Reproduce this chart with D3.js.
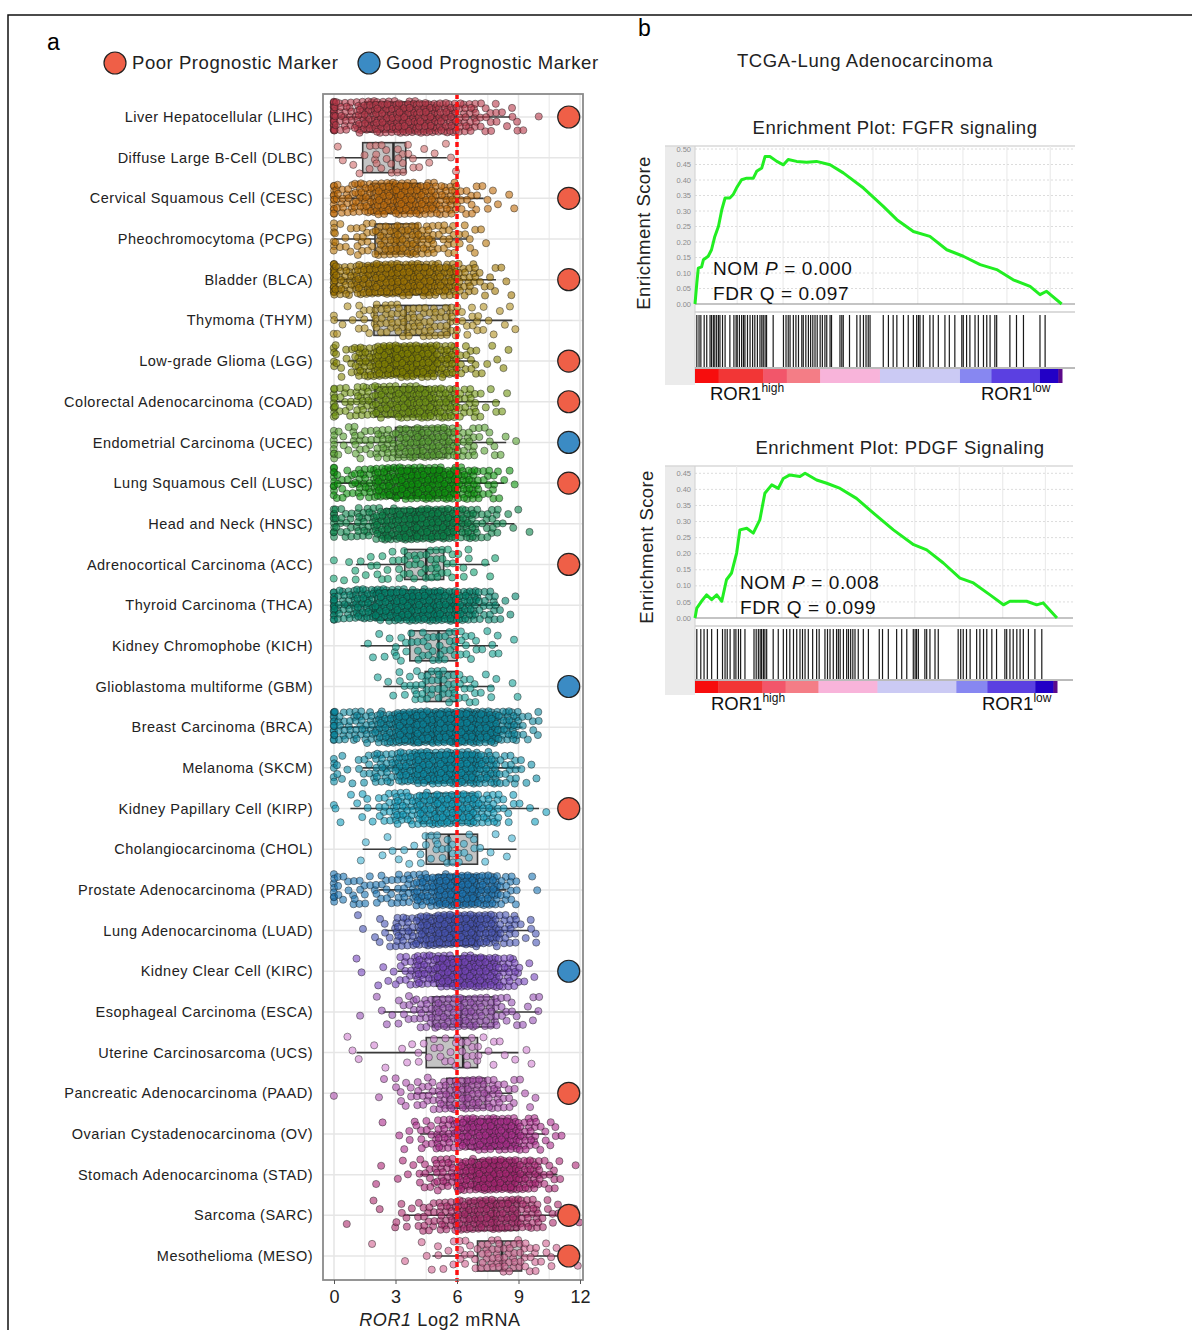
<!DOCTYPE html>
<html>
<head>
<meta charset="utf-8">
<script src="https://cdn.jsdelivr.net/npm/d3@7"></script>
<style>
  body { margin: 0; background: #fff; }
  svg { display: block; font-family: "Liberation Sans", Arial, sans-serif; }
</style>
</head>
<body>
<svg width="1192" height="1330"></svg>
<script>
"use strict";

// ---------- panel a data ----------
const cancerTypes = [
  "Liver Hepatocellular (LIHC)", "Diffuse Large B-Cell (DLBC)", "Cervical Squamous Cell (CESC)",
  "Pheochromocytoma (PCPG)", "Bladder (BLCA)", "Thymoma (THYM)", "Low-grade Glioma (LGG)",
  "Colorectal Adenocarcinoma (COAD)", "Endometrial Carcinoma (UCEC)", "Lung Squamous Cell (LUSC)",
  "Head and Neck (HNSC)", "Adrenocortical Carcinoma (ACC)", "Thyroid Carcinoma (THCA)",
  "Kidney Chromophobe (KICH)", "Glioblastoma multiforme (GBM)", "Breast Carcinoma (BRCA)",
  "Melanoma (SKCM)", "Kidney Papillary Cell (KIRP)", "Cholangiocarcinoma (CHOL)",
  "Prostate Adenocarcinoma (PRAD)", "Lung Adenocarcinoma (LUAD)", "Kidney Clear Cell (KIRC)",
  "Esophageal Carcinoma (ESCA)", "Uterine Carcinosarcoma (UCS)", "Pancreatic Adenocarcinoma (PAAD)",
  "Ovarian Cystadenocarcinoma (OV)", "Stomach Adenocarcinoma (STAD)", "Sarcoma (SARC)",
  "Mesothelioma (MESO)"
];

const whiskerLow  = [0, 0.05, 0, 0, 0, 0, 0.7, 0, 0, 0, 0, 1.07, 0, 1.3, 2.4, 0.3, 1.4, 0.8, 1.4, 2.2, 2.5, 3.1, 2.4, 1.1, 3.9, 4.2, 4.2, 3.4, 4.8];
const quartile1   = [1.5, 1.4, 1.8, 2.0, 1.6, 1.95, 2.5, 2.0, 3.0, 2.6, 2.5, 3.45, 2.0, 3.7, 4.45, 3.3, 4.0, 4.2, 4.5, 5.0, 4.5, 5.0, 4.8, 4.5, 5.5, 6.5, 6.8, 6.5, 7.0];
const medians     = [3.2, 2.9, 3.0, 3.1, 3.0, 3.5, 3.6, 3.6, 4.2, 3.9, 4.0, 4.5, 3.8, 5.1, 5.2, 5.0, 5.5, 5.0, 5.6, 6.0, 5.8, 6.2, 6.2, 6.3, 6.4, 7.6, 7.9, 7.8, 8.2];
const quartile3   = [4.6, 3.5, 4.2, 4.1, 4.6, 5.65, 4.9, 4.6, 5.5, 5.3, 5.5, 5.35, 5.2, 6.0, 6.0, 6.8, 6.8, 6.8, 7.0, 7.0, 7.0, 7.3, 7.8, 7.0, 7.4, 8.5, 8.8, 9.0, 9.15];
const whiskerHigh = [8.6, 5.5, 7.3, 6.5, 7.9, 8.7, 6.9, 8.1, 8.4, 8.3, 8.8, 7.6, 8.1, 8.0, 7.8, 9.2, 9.1, 10.0, 8.9, 8.4, 9.5, 8.5, 10.0, 9.0, 8.7, 10.3, 10.9, 11.2, 11.2];

// samples sitting exactly at 0 and counts per 1-unit bin (0-1, 1-2, ... 11-12)
const zeroCounts = [30, 0, 12, 6, 20, 3, 4, 8, 8, 10, 10, 2, 15, 0, 0, 15, 5, 1, 0, 8, 0, 0, 0, 0, 1, 0, 0, 0, 0];
const binCounts = [
  [25, 45, 55, 60, 55, 45, 25, 12, 6, 2, 0, 0],
  [3, 5, 9, 10, 4, 3, 0, 0, 0, 0, 0, 0],
  [20, 35, 50, 55, 45, 30, 12, 5, 2, 0, 0, 0],
  [8, 15, 30, 35, 25, 15, 8, 2, 0, 0, 0, 0],
  [30, 45, 55, 60, 55, 45, 22, 8, 3, 0, 0, 0],
  [4, 10, 18, 22, 20, 18, 10, 5, 4, 0, 0, 0],
  [10, 35, 60, 75, 65, 40, 12, 4, 2, 0, 0, 0],
  [15, 25, 40, 50, 50, 40, 18, 6, 2, 0, 0, 0],
  [8, 15, 25, 35, 40, 35, 18, 8, 3, 0, 0, 0],
  [12, 25, 45, 60, 60, 55, 35, 15, 4, 0, 0, 0],
  [15, 25, 45, 55, 60, 55, 35, 15, 4, 1, 0, 0],
  [2, 6, 8, 12, 14, 12, 6, 3, 0, 0, 0, 0],
  [25, 45, 55, 60, 60, 55, 40, 18, 5, 0, 0, 0],
  [0, 2, 4, 8, 12, 14, 10, 5, 2, 0, 0, 0],
  [0, 0, 3, 8, 15, 18, 12, 5, 2, 0, 0, 0],
  [20, 25, 45, 75, 90, 100, 95, 75, 35, 10, 0, 0],
  [6, 10, 25, 45, 60, 65, 60, 40, 15, 5, 0, 0],
  [3, 6, 15, 30, 40, 45, 40, 25, 8, 3, 1, 0],
  [0, 2, 3, 4, 8, 10, 8, 4, 2, 0, 0, 0],
  [10, 10, 12, 20, 40, 55, 60, 45, 15, 2, 0, 0],
  [0, 2, 8, 25, 45, 60, 60, 45, 20, 6, 0, 0],
  [0, 2, 4, 15, 35, 55, 60, 50, 25, 4, 0, 0],
  [0, 1, 4, 10, 20, 28, 30, 22, 10, 5, 1, 0],
  [2, 2, 1, 3, 6, 8, 10, 6, 3, 2, 0, 0],
  [0, 0, 2, 8, 15, 25, 30, 25, 12, 4, 0, 0],
  [0, 0, 1, 5, 12, 25, 45, 55, 50, 25, 8, 1],
  [0, 0, 2, 4, 12, 25, 45, 60, 55, 35, 12, 2],
  [1, 1, 2, 6, 15, 25, 40, 45, 40, 25, 8, 2],
  [0, 1, 0, 1, 3, 6, 10, 18, 20, 15, 6, 1]
];

const dotColors = [
  "#b8384a", "#d06a6a", "#c06a08", "#b87408", "#a07400", "#b09020", "#848400", "#709410",
  "#56a030", "#0c940c", "#08844a", "#10a070", "#00846c", "#10a090", "#14a096", "#0a869c",
  "#0a8ca6", "#109cbc", "#40b0d0", "#1a74b4", "#4654b4", "#7444bc", "#9650b4", "#d080d0",
  "#ac4cac", "#ac2c8c", "#ac2474", "#ac2c6c", "#d06090"
];

const prognosis = [
  "poor", null, "poor", null, "poor", null, "poor", "poor", "good", "poor", null, "poor", null,
  null, "good", null, null, "poor", null, null, null, "good", null, null, "poor", null, null,
  "poor", "poor"
];

const xTicks = [0, 3, 6, 9, 12];
const xGrid = [0, 1.5, 3, 4.5, 6, 7.5, 9, 10.5, 12];
const cutoff = 6;
const markerPosition = 11.45;
const markerColors = { poor: "#ef5f47", good: "#3b8bc4" };

// ---------- panel b data ----------
const fgfrRank = [0, 0.005, 0.009, 0.018, 0.023, 0.036, 0.045, 0.054, 0.064, 0.073, 0.082, 0.095, 0.104, 0.113, 0.127, 0.141, 0.159, 0.168, 0.182, 0.191, 0.204, 0.223, 0.241, 0.254, 0.277, 0.304, 0.331, 0.368, 0.404, 0.459, 0.513, 0.55, 0.595, 0.64, 0.686, 0.731, 0.777, 0.822, 0.867, 0.913, 0.94, 0.958, 0.999];
const fgfrES   = [0, 0.068, 0.116, 0.12, 0.143, 0.154, 0.175, 0.218, 0.251, 0.304, 0.342, 0.342, 0.353, 0.374, 0.401, 0.406, 0.406, 0.428, 0.439, 0.476, 0.476, 0.46, 0.449, 0.466, 0.46, 0.457, 0.46, 0.449, 0.423, 0.374, 0.315, 0.272, 0.234, 0.218, 0.175, 0.154, 0.127, 0.111, 0.078, 0.057, 0.03, 0.041, 0];
const fgfrHits = [0.005, 0.011, 0.016, 0.025, 0.032, 0.041, 0.045, 0.05, 0.054, 0.059, 0.064, 0.068, 0.075, 0.082, 0.095, 0.106, 0.112, 0.115, 0.121, 0.127, 0.132, 0.136, 0.143, 0.15, 0.157, 0.163, 0.17, 0.177, 0.182, 0.186, 0.191, 0.195, 0.213, 0.241, 0.248, 0.254, 0.259, 0.268, 0.275, 0.282, 0.291, 0.295, 0.302, 0.309, 0.315, 0.321, 0.327, 0.333, 0.341, 0.347, 0.354, 0.359, 0.368, 0.372, 0.395, 0.4, 0.404, 0.421, 0.441, 0.45, 0.459, 0.466, 0.472, 0.477, 0.513, 0.527, 0.54, 0.55, 0.568, 0.581, 0.595, 0.604, 0.609, 0.613, 0.622, 0.64, 0.649, 0.663, 0.681, 0.693, 0.708, 0.727, 0.731, 0.74, 0.749, 0.763, 0.772, 0.786, 0.795, 0.804, 0.817, 0.822, 0.858, 0.876, 0.895, 0.94, 0.954];

const pdgfRank = [0, 0.005, 0.018, 0.032, 0.046, 0.06, 0.074, 0.087, 0.101, 0.115, 0.124, 0.143, 0.161, 0.179, 0.193, 0.212, 0.23, 0.244, 0.262, 0.29, 0.304, 0.336, 0.364, 0.401, 0.446, 0.493, 0.548, 0.604, 0.64, 0.686, 0.732, 0.769, 0.815, 0.852, 0.87, 0.916, 0.944, 0.962, 1];
const pdgfES   = [0, 0.031, 0.052, 0.072, 0.057, 0.072, 0.052, 0.119, 0.14, 0.202, 0.274, 0.279, 0.264, 0.305, 0.388, 0.414, 0.403, 0.434, 0.445, 0.44, 0.45, 0.429, 0.419, 0.403, 0.372, 0.326, 0.274, 0.228, 0.212, 0.171, 0.124, 0.109, 0.072, 0.041, 0.052, 0.052, 0.041, 0.047, 0];
const pdgfHits = [0.005, 0.016, 0.025, 0.034, 0.046, 0.062, 0.076, 0.083, 0.089, 0.097, 0.108, 0.113, 0.12, 0.126, 0.138, 0.163, 0.169, 0.175, 0.18, 0.184, 0.189, 0.193, 0.198, 0.216, 0.23, 0.244, 0.253, 0.262, 0.272, 0.281, 0.29, 0.297, 0.304, 0.313, 0.325, 0.336, 0.343, 0.359, 0.366, 0.373, 0.382, 0.391, 0.396, 0.401, 0.41, 0.419, 0.424, 0.43, 0.436, 0.442, 0.451, 0.465, 0.479, 0.509, 0.518, 0.534, 0.557, 0.571, 0.585, 0.603, 0.608, 0.612, 0.617, 0.635, 0.64, 0.649, 0.663, 0.672, 0.727, 0.734, 0.741, 0.75, 0.76, 0.778, 0.787, 0.797, 0.806, 0.82, 0.833, 0.856, 0.861, 0.87, 0.879, 0.889, 0.898, 0.907, 0.921, 0.939, 0.958];

const fgfrTicks = [0, 0.05, 0.1, 0.15, 0.2, 0.25, 0.3, 0.35, 0.4, 0.45, 0.5];
const pdgfTicks = [0, 0.05, 0.1, 0.15, 0.2, 0.25, 0.3, 0.35, 0.4, 0.45];
const rankGrid = [0.115, 0.24, 0.365, 0.485, 0.607, 0.73, 0.85, 0.968];
const barStops = [0, 0.064, 0.186, 0.25, 0.341, 0.504, 0.722, 0.808, 0.94, 0.99, 1];
const barColors = ["#f70d0d", "#f23636", "#f2566a", "#f47d86", "#f8b4da", "#cbcaf4", "#8787f1", "#5b40e1", "#2200c6", "#5c0a8a"];

const svg = d3.select("svg");

// outer figure frame
svg.append("path")
  .attr("d", "M8,1330V15H1192")
  .attr("fill", "none")
  .attr("stroke", "#111")
  .attr("stroke-width", 1.5);

svg.append("text").attr("x", 47).attr("y", 50).attr("font-size", 23).text("a");
svg.append("text").attr("x", 638).attr("y", 36).attr("font-size", 23).text("b");

// ---------- panel a ----------
const plotLeft = 323, plotRight = 583, plotTop = 94, plotBottom = 1280;
const x = d3.scaleLinear().domain([0, 12]).range([334, 580]);
const y = d3.scalePoint().domain(cancerTypes).range([117, 1256]);

const legend = svg.append("g").attr("font-size", 18.5).attr("letter-spacing", 0.55).attr("fill", "#222");
[["poor", 115, "Poor Prognostic Marker"], ["good", 369, "Good Prognostic Marker"]].forEach(([k, cx, label]) => {
  legend.append("circle").attr("cx", cx).attr("cy", 63).attr("r", 11)
    .attr("fill", markerColors[k]).attr("stroke", "#222").attr("stroke-width", 1.2);
  legend.append("text").attr("x", cx + 17).attr("y", 69).text(label);
});

const ga = svg.append("g");

ga.append("g").selectAll("line").data(xGrid).join("line")
  .attr("x1", d => x(d)).attr("x2", d => x(d))
  .attr("y1", plotTop).attr("y2", plotBottom)
  .attr("stroke", (d, i) => i % 2 ? "#efefef" : "#e4e4e4").attr("stroke-width", 1.5);

ga.append("g").selectAll("line").data(cancerTypes).join("line")
  .attr("x1", plotLeft).attr("x2", plotRight)
  .attr("y1", d => y(d)).attr("y2", d => y(d))
  .attr("stroke", "#e6e6e6").attr("stroke-width", 1.5);

// boxplots
const boxH = 30;
cancerTypes.forEach((c, i) => {
  const cy = y(c);
  const b = ga.append("g");
  b.append("line")
    .attr("x1", x(whiskerLow[i])).attr("x2", x(whiskerHigh[i]))
    .attr("y1", cy).attr("y2", cy)
    .attr("stroke", "#3a3a3a").attr("stroke-width", 1.6);
  b.append("rect")
    .attr("x", x(quartile1[i])).attr("y", cy - boxH / 2)
    .attr("width", x(quartile3[i]) - x(quartile1[i])).attr("height", boxH)
    .attr("fill", "#c4c4c4").attr("stroke", "#3a3a3a").attr("stroke-width", 1.6);
  b.append("line")
    .attr("x1", x(medians[i])).attr("x2", x(medians[i]))
    .attr("y1", cy - boxH / 2).attr("y2", cy + boxH / 2)
    .attr("stroke", "#2a2a2a").attr("stroke-width", 2.5);
});

// jittered samples: bins, spread inside each bin with an R2 low-discrepancy layout
const a1 = 0.7548776662, a2 = 0.5698402910;
const frac = v => v - Math.floor(v);
cancerTypes.forEach((c, i) => {
  const pts = [];
  for (let k = 0; k < zeroCounts[i]; k++) {
    pts.push([0.03 * (frac(k * a1 + 0.3) - 0.5), frac(0.5 + k * a2 + i * 0.17) * 2 - 1]);
  }
  binCounts[i].forEach((n, bin) => {
    const s = i * 37 + bin * 11;
    for (let k = 0; k < n; k++) {
      pts.push([bin + frac(0.5 + (k + s) * a1), frac(0.5 + (k + s) * a2) * 2 - 1]);
    }
  });
  ga.append("g").selectAll("circle").data(pts).join("circle")
    .attr("cx", d => x(d[0]))
    .attr("cy", d => y(c) + d[1] * 16)
    .attr("r", 3.6)
    .attr("fill", dotColors[i]).attr("fill-opacity", 0.6)
    .attr("stroke", "#1c1c1c").attr("stroke-opacity", 0.5).attr("stroke-width", 0.9);
});

// cutoff line
ga.append("line")
  .attr("x1", x(cutoff)).attr("x2", x(cutoff))
  .attr("y1", plotTop).attr("y2", plotBottom + 2)
  .attr("stroke", "#ff1010").attr("stroke-width", 3.5)
  .attr("stroke-dasharray", "5,3");

// prognostic markers
ga.append("g").selectAll("circle").data(cancerTypes.filter((c, i) => prognosis[i])).join("circle")
  .attr("cx", x(markerPosition))
  .attr("cy", d => y(d))
  .attr("r", 11)
  .attr("fill", d => markerColors[prognosis[cancerTypes.indexOf(d)]])
  .attr("stroke", "#222").attr("stroke-width", 1.2);

ga.append("rect")
  .attr("x", plotLeft).attr("y", plotTop)
  .attr("width", plotRight - plotLeft).attr("height", plotBottom - plotTop)
  .attr("fill", "none").attr("stroke", "#8a8a8a").attr("stroke-width", 1.8);

// category labels
ga.append("g").selectAll("text").data(cancerTypes).join("text")
  .attr("x", 313).attr("y", d => y(d)).attr("dy", "0.35em")
  .attr("text-anchor", "end").attr("font-size", 14.5).attr("letter-spacing", 0.5).attr("fill", "#222")
  .text(d => d);

// x axis
const xAxis = d3.axisBottom(x).tickValues(xTicks).tickSize(4).tickPadding(6).tickFormat(d3.format("d"));
const xAxisG = ga.append("g").attr("transform", `translate(0,${plotBottom})`).call(xAxis);
xAxisG.select(".domain").remove();
xAxisG.selectAll("line").attr("stroke", "#555");
xAxisG.selectAll("text").attr("font-size", 18).attr("fill", "#222")
  .attr("font-family", "Liberation Sans, Arial, sans-serif");

const xTitle = ga.append("text").attr("x", 440).attr("y", 1326)
  .attr("text-anchor", "middle").attr("font-size", 18).attr("letter-spacing", 0.6).attr("fill", "#222");
xTitle.append("tspan").attr("font-style", "italic").text("ROR1");
xTitle.append("tspan").text(" Log2 mRNA");

// ---------- panel b ----------
svg.append("text").attr("x", 865).attr("y", 67).attr("text-anchor", "middle")
  .attr("font-size", 18.5).attr("letter-spacing", 0.6).attr("fill", "#222").text("TCGA-Lung Adenocarcinoma");

const drawEnrichment = (cfg) => {
  const g = svg.append("g");
  const xs = d3.scaleLinear().domain([0, 1]).range([695, cfg.barEnd]);
  const ys = d3.scaleLinear().domain([0, cfg.esMax]).range([cfg.zeroY, cfg.maxY]);

  g.append("text").attr("x", cfg.titleX).attr("y", cfg.titleY).attr("text-anchor", "middle")
    .attr("font-size", 18.5).attr("letter-spacing", 0.5).attr("fill", "#222").text(cfg.title);

  g.append("rect").attr("x", 665).attr("y", cfg.top)
    .attr("width", 30).attr("height", cfg.barBottom + 2 - cfg.top).attr("fill", "#ebebeb");

  g.append("line").attr("x1", 665).attr("x2", cfg.right).attr("y1", cfg.top).attr("y2", cfg.top)
    .attr("stroke", "#d8d8d8").attr("stroke-width", 1.5);

  g.append("g").selectAll("line").data(rankGrid).join("line")
    .attr("x1", d => xs(d)).attr("x2", d => xs(d))
    .attr("y1", cfg.top).attr("y2", cfg.zeroY)
    .attr("stroke", "#ececec").attr("stroke-width", 1.2);

  g.append("g").selectAll("line").data(cfg.ticks.slice(1)).join("line")
    .attr("x1", 695).attr("x2", cfg.right)
    .attr("y1", d => ys(d)).attr("y2", d => ys(d))
    .attr("stroke", "#dcdcdc").attr("stroke-dasharray", "2,2");

  g.append("line").attr("x1", 695).attr("x2", 695).attr("y1", cfg.top).attr("y2", cfg.barBottom)
    .attr("stroke", "#d0d0d0");

  g.append("line").attr("x1", 695).attr("x2", cfg.right).attr("y1", ys(0)).attr("y2", ys(0))
    .attr("stroke", "#8a8a8a").attr("stroke-width", 1.2);

  g.append("g").selectAll("text").data(cfg.ticks).join("text")
    .attr("x", 691).attr("y", d => ys(d)).attr("dy", "0.35em")
    .attr("text-anchor", "end").attr("font-size", 7.5).attr("fill", "#8c8c8c")
    .text(d => d3.format(".2f")(d));

  // hit region
  g.append("line").attr("x1", 695).attr("x2", cfg.right).attr("y1", cfg.hitTop - 3).attr("y2", cfg.hitTop - 3)
    .attr("stroke", "#cfcfcf").attr("stroke-width", 1.5);
  g.append("g").selectAll("line").data(cfg.hits).join("line")
    .attr("x1", d => xs(d)).attr("x2", d => xs(d))
    .attr("y1", cfg.hitTop).attr("y2", cfg.hitBottom)
    .attr("stroke", "#1a1a1a").attr("stroke-width", 1.2);
  g.append("line").attr("x1", 695).attr("x2", cfg.right).attr("y1", cfg.hitBottom + 1).attr("y2", cfg.hitBottom + 1)
    .attr("stroke", "#777").attr("stroke-width", 1);

  // ranking colour bar
  g.append("g").selectAll("rect").data(barColors).join("rect")
    .attr("x", (d, i) => xs(barStops[i]))
    .attr("width", (d, i) => xs(barStops[i + 1]) - xs(barStops[i]) + 0.5)
    .attr("y", cfg.hitBottom + 2).attr("height", cfg.barBottom - cfg.hitBottom - 2)
    .attr("fill", d => d);

  // running enrichment score
  const line = d3.line().x(d => xs(d[0])).y(d => ys(d[1]));
  g.append("path")
    .datum(cfg.rank.map((r, i) => [r, cfg.es[i]]))
    .attr("d", line)
    .attr("fill", "none").attr("stroke", "#22ee22").attr("stroke-width", 3)
    .attr("stroke-linejoin", "round");

  g.append("text")
    .attr("transform", `translate(${cfg.labelX},${cfg.labelY}) rotate(-90)`)
    .attr("text-anchor", "middle").attr("font-size", 18.5).attr("letter-spacing", 0.4).attr("fill", "#222")
    .text("Enrichment Score");

  const stats = g.append("g").attr("font-size", 19).attr("letter-spacing", 0.6).attr("fill", "#111");
  const nom = stats.append("text").attr("x", cfg.statX).attr("y", cfg.statY);
  nom.append("tspan").text("NOM ");
  nom.append("tspan").attr("font-style", "italic").text("P");
  nom.append("tspan").text(" = " + cfg.nomP);
  stats.append("text").attr("x", cfg.statX).attr("y", cfg.statY + 25).text("FDR Q = " + cfg.fdrQ);

  [[cfg.highX, "high"], [cfg.lowX, "low"]].forEach(([lx, sup]) => {
    const t = g.append("text").attr("x", lx).attr("y", cfg.barBottom + 17)
      .attr("font-size", 18.5).attr("fill", "#111");
    t.append("tspan").text("ROR1");
    t.append("tspan").attr("font-size", 12).attr("dy", -8).text(sup);
  });
};

drawEnrichment({
  title: "Enrichment Plot: FGFR signaling", titleX: 895, titleY: 134,
  top: 146, right: 1075, barEnd: 1062, zeroY: 304, maxY: 149, esMax: 0.5,
  ticks: fgfrTicks, hits: fgfrHits, rank: fgfrRank, es: fgfrES,
  hitTop: 315, hitBottom: 367, barBottom: 383,
  labelX: 650, labelY: 233, statX: 713, statY: 275, nomP: "0.000", fdrQ: "0.097",
  highX: 710, lowX: 981
});

drawEnrichment({
  title: "Enrichment Plot: PDGF Signaling", titleX: 900, titleY: 454,
  top: 466, right: 1073, barEnd: 1057, zeroY: 618, maxY: 473.3, esMax: 0.45,
  ticks: pdgfTicks, hits: pdgfHits, rank: pdgfRank, es: pdgfES,
  hitTop: 629, hitBottom: 679, barBottom: 693,
  labelX: 653, labelY: 547, statX: 740, statY: 589, nomP: "0.008", fdrQ: "0.099",
  highX: 711, lowX: 982
});
</script>
</body>
</html>
